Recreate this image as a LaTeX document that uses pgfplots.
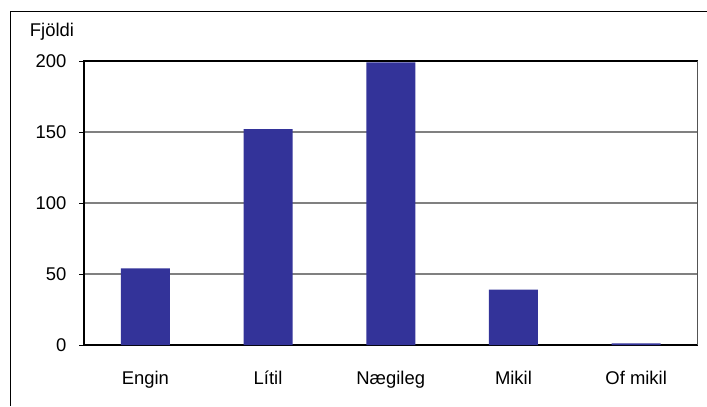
\documentclass[border=0pt]{standalone}
\usepackage{fontspec}
\setmainfont{Liberation Sans}
\usepackage{pgfplots}
\pgfplotsset{compat=1.18}
\definecolor{barblue}{RGB}{51,51,153}
\definecolor{gridgray}{RGB}{128,128,128}
\begin{document}
\begin{tikzpicture}[x=1bp,y=1bp]
\useasboundingbox (0,0) rectangle (707,406);
% outer chart frame (cropped at right and bottom)
\draw[line width=1bp, black] (10,0) -- (10,394) -- (707,394);
\node[font=\fontsize{18.5}{22}\selectfont, inner sep=0pt] at (52,374) {Fjöldi};
\begin{axis}[
  at={(84bp,61bp)}, anchor=south west,
  scale only axis,
  width=613.5bp, height=284bp,
  xmin=-0.5, xmax=4.5,
  ymin=0, ymax=200,
  ytick={0,50,100,150,200},
  xtick={0,1,2,3,4},
  xticklabels={Engin,Lítil,Nægileg,Mikil,Of mikil},
  ytick pos=left,
  x tick style={draw=none},
  y tick style={black, line width=0.8bp},
  tick align=outside,
  major tick length=5bp,
  ymajorgrids,
  grid style={gridgray, line width=1.2bp},
  axis line style={black, line width=1.2bp},
  tick label style={font=\fontsize{18.5}{22}\selectfont},
  yticklabel style={xshift=-9bp},
  xticklabel style={anchor=base, yshift=-34bp},
  /pgf/number format/assume math mode=true,
]
\addplot[ybar, bar width=49bp, fill=barblue, draw=none] coordinates {
  (0,54) (1,152) (2,199) (3,39) (4,1.2)
};
\draw[gridgray, line width=1.2bp] (axis cs:4.5,0) -- (axis cs:4.5,200);
\end{axis}
\end{tikzpicture}
\end{document}
